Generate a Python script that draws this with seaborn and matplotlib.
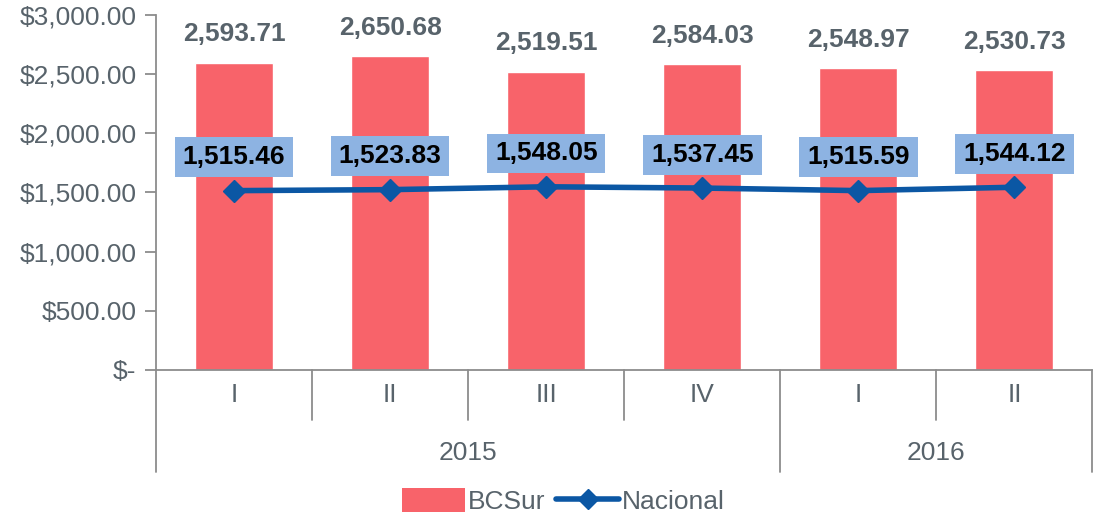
import matplotlib
matplotlib.use("Agg")
import matplotlib.pyplot as plt
import matplotlib.transforms as mtransforms
from matplotlib.patches import Patch
from matplotlib.lines import Line2D
import seaborn as sns
import pandas as pd

# datos
anios = ["2015", "2015", "2015", "2015", "2016", "2016"]
trimestres = ["I", "II", "III", "IV", "I", "II"]
bcsur = [2593.71, 2650.68, 2519.51, 2584.03, 2548.97, 2530.73]
nacional = [1515.46, 1523.83, 1548.05, 1537.45, 1515.59, 1544.12]
yticks = [0, 500, 1000, 1500, 2000, 2500, 3000]

df = pd.DataFrame({
    "periodo": [a + "-" + t for a, t in zip(anios, trimestres)],
    "BCSur": bcsur,
    "Nacional": nacional,
})

sns.set_style("white")
plt.rcParams["font.family"] = ["Liberation Sans", "DejaVu Sans"]

rojo = "#F8636A"
azul = "#0B57A4"
caja = "#8DB3E2"
gris_txt = "#58636B"
gris_eje = "#8C8C8C"
fs = 19

fig = plt.figure(figsize=(10.94, 5.16), dpi=100)
ax = fig.add_axes([0.1426, 0.283, 0.856, 0.688])

sns.barplot(data=df, x="periodo", y="BCSur", color=rojo, width=0.5,
            saturation=1, ax=ax)
ax.plot(range(len(df)), df["Nacional"], color=azul, lw=4, marker="D",
        markersize=11, zorder=3)

ax.set_xlim(-0.5, len(df) - 0.5)
ax.set_ylim(0, 3000)
ax.set_yticks(yticks)
ax.set_yticklabels(["$-" if v == 0 else "${:,.2f}".format(v) for v in yticks])
ax.tick_params(axis="y", labelsize=fs, labelcolor=gris_txt, color=gris_eje,
               length=8, width=1.3, left=True, pad=6)
ax.set_xticks([])
ax.set_xlabel("")
ax.set_ylabel("")

for s in ["top", "right"]:
    ax.spines[s].set_visible(False)
for s in ["left", "bottom"]:
    ax.spines[s].set_color(gris_eje)
    ax.spines[s].set_linewidth(1.3)

# etiquetas de barras
for i, v in enumerate(bcsur):
    ax.annotate("{:,.2f}".format(v), (i, v), xytext=(0, 12),
                textcoords="offset points", ha="center", va="bottom",
                fontsize=fs, fontweight="bold", color=gris_txt)

# etiquetas de la linea
for i, v in enumerate(nacional):
    ax.annotate("{:,.2f}".format(v), (i, v), xytext=(0, 24),
                textcoords="offset points", ha="center", va="center",
                fontsize=fs, fontweight="bold", color="black", zorder=4,
                bbox=dict(boxstyle="square,pad=0.3", fc=caja, ec="none"))

# eje de categorias en dos niveles
trans = mtransforms.blended_transform_factory(ax.transData, ax.transAxes)
for i in range(len(df) + 1):
    x = i - 0.5
    cambio = i == 0 or i == len(df) or anios[i] != anios[i - 1]
    y1 = -0.287 if cambio else -0.141
    ax.plot([x, x], [0, y1], transform=trans, color=gris_eje, lw=1.3,
            clip_on=False)
for i, t in enumerate(trimestres):
    ax.text(i, -0.07, t, transform=trans, ha="center", va="center",
            fontsize=fs, color=gris_txt)
for a in sorted(set(anios)):
    pos = [i for i, x in enumerate(anios) if x == a]
    ax.text(sum(pos) / len(pos), -0.235, a, transform=trans, ha="center",
            va="center", fontsize=fs, color=gris_txt)

handles = [
    Patch(facecolor=rojo, edgecolor="none", label="BCSur"),
    Line2D([], [], color=azul, lw=4, marker="D", markersize=10,
           label="Nacional"),
]
leg = fig.legend(handles=handles, loc="center", bbox_to_anchor=(0.515, 0.029),
                 ncol=2, frameon=False, fontsize=fs, handlelength=2.4,
                 handleheight=1.05, handletextpad=0.1, columnspacing=0.4)
for t in leg.get_texts():
    t.set_color(gris_txt)

plt.savefig("out.png", dpi=100)
